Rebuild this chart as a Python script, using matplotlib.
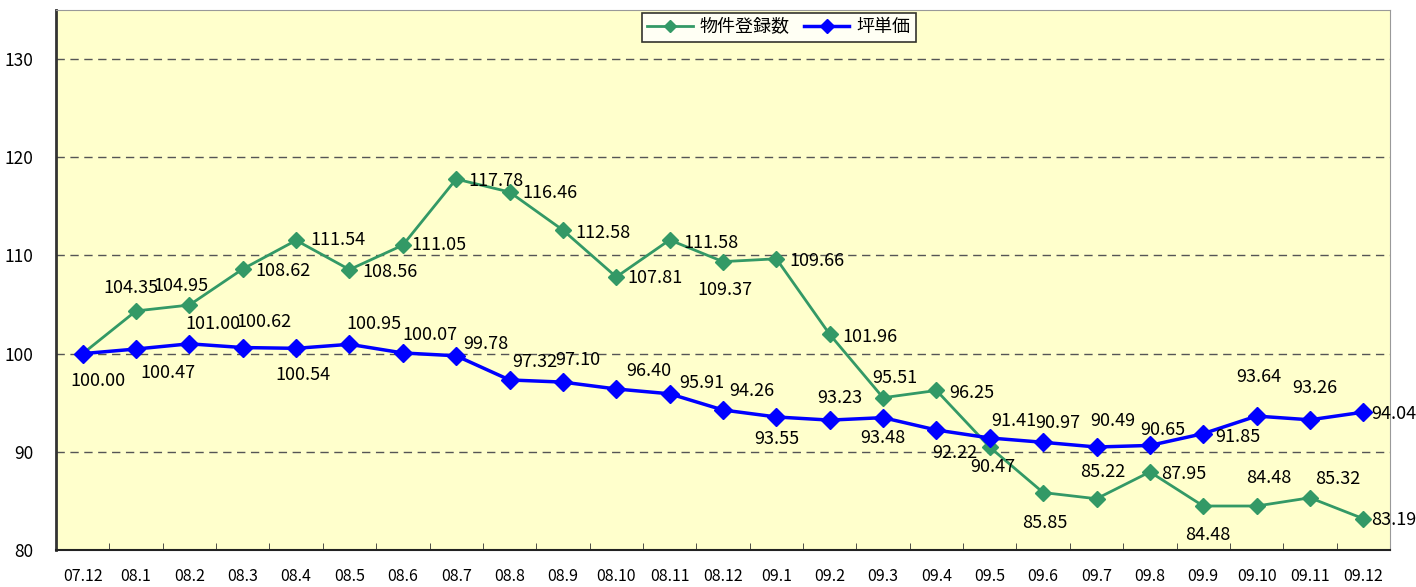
import matplotlib
matplotlib.use("Agg")
import matplotlib.pyplot as plt

plt.rcParams["font.family"] = ["Noto Sans CJK JP", "DejaVu Sans"]

months = ["07.12", "08.1", "08.2", "08.3", "08.4", "08.5", "08.6", "08.7", "08.8",
          "08.9", "08.10", "08.11", "08.12", "09.1", "09.2", "09.3", "09.4", "09.5",
          "09.6", "09.7", "09.8", "09.9", "09.10", "09.11", "09.12"]

listings = [100.00, 104.35, 104.95, 108.62, 111.54, 108.56, 111.05, 117.78, 116.46,
            112.58, 107.81, 111.58, 109.37, 109.66, 101.96, 95.51, 96.25, 90.47,
            85.85, 85.22, 87.95, 84.48, 84.48, 85.32, 83.19]

unit_price = [100.00, 100.47, 101.00, 100.62, 100.54, 100.95, 100.07, 99.78, 97.32,
              97.10, 96.40, 95.91, 94.26, 93.55, 93.23, 93.48, 92.22, 91.41,
              90.97, 90.49, 90.65, 91.85, 93.64, 93.26, 94.04]

# label offsets in pixels (dx, dy) from the marker, y up
green_off = [None, (-5, 23), (-8, 19), (40, -2), (42, 0), (41, -2), (36, 0), (40, -2),
             (40, -1), (40, -3), (39, -1), (41, -3), (2, -28), (41, -2), (40, -3),
             (12, 20), (35, -3), (3, -20), (2, -30), (6, 27), (34, -2), (5, -29),
             (12, 28), (28, 19), (30, -1)]
blue_off = [(15, -27), (32, -24), (24, 20), (21, 26), (7, -27), (24, 20), (27, 18),
            (30, 12), (25, 18), (15, 22), (33, 18), (32, 11), (29, 19), (0, -22),
            (10, 22), (0, -20), (18, -23), (24, 17), (15, 19), (16, 26), (13, 15),
            (35, -3), (2, 39), (5, 32), (30, -2)]

green = "#339966"
blue = "#0000FF"

fig = plt.figure(figsize=(14.16, 5.87), dpi=100)
ax = fig.add_axes([56 / 1416, 37 / 587, 1334 / 1416, 540 / 587])
ax.set_facecolor("#FFFFCC")

x = list(range(len(months)))
ax.plot(x, listings, color=green, lw=2, marker="D", ms=8, label="物件登録数", zorder=3)
ax.plot(x, unit_price, color=blue, lw=2.5, marker="D", ms=9, label="坪単価", zorder=4)

for i, (g, b) in enumerate(zip(listings, unit_price)):
    if green_off[i] is not None:
        ax.annotate(f"{g:.2f}", (i, g), xytext=green_off[i], textcoords="offset pixels",
                    ha="center", va="center", fontsize=13, zorder=5)
    ax.annotate(f"{b:.2f}", (i, b), xytext=blue_off[i], textcoords="offset pixels",
                ha="center", va="center", fontsize=13, zorder=5)

ax.set_xlim(-0.5, len(months) - 0.5)
ax.set_ylim(80, 135)
ax.set_yticks([80, 90, 100, 110, 120, 130])
ax.tick_params(axis="y", length=0, labelsize=12.5, pad=16)
ax.set_xticks(x)
ax.set_xticklabels(months)
ax.tick_params(axis="x", which="major", length=0, labelsize=11.5, pad=13)
ax.set_xticks([i + 0.5 for i in x[:-1]], minor=True)
ax.tick_params(axis="x", which="minor", direction="in", length=5, color="#333333")

for yv in [90, 100, 110, 120, 130]:
    ax.axhline(yv, color="#555555", lw=1, ls=(0, (6, 4)), zorder=1)

ax.spines["left"].set_color("#333333")
ax.spines["left"].set_linewidth(2)
ax.spines["bottom"].set_color("#222222")
ax.spines["bottom"].set_linewidth(1.5)
ax.spines["top"].set_color("#999999")
ax.spines["right"].set_color("#999999")

leg = fig.legend(loc="upper center", bbox_to_anchor=(779 / 1416, 1 - 4 / 587), ncol=2,
                 fontsize=13, frameon=True, fancybox=False, edgecolor="black",
                 handlelength=2.5, columnspacing=0.8, handletextpad=0.4,
                 borderpad=0.3, markerscale=0.8)
leg.get_frame().set_linewidth(1.2)

fig.savefig("out.png", dpi=100, facecolor="white")
